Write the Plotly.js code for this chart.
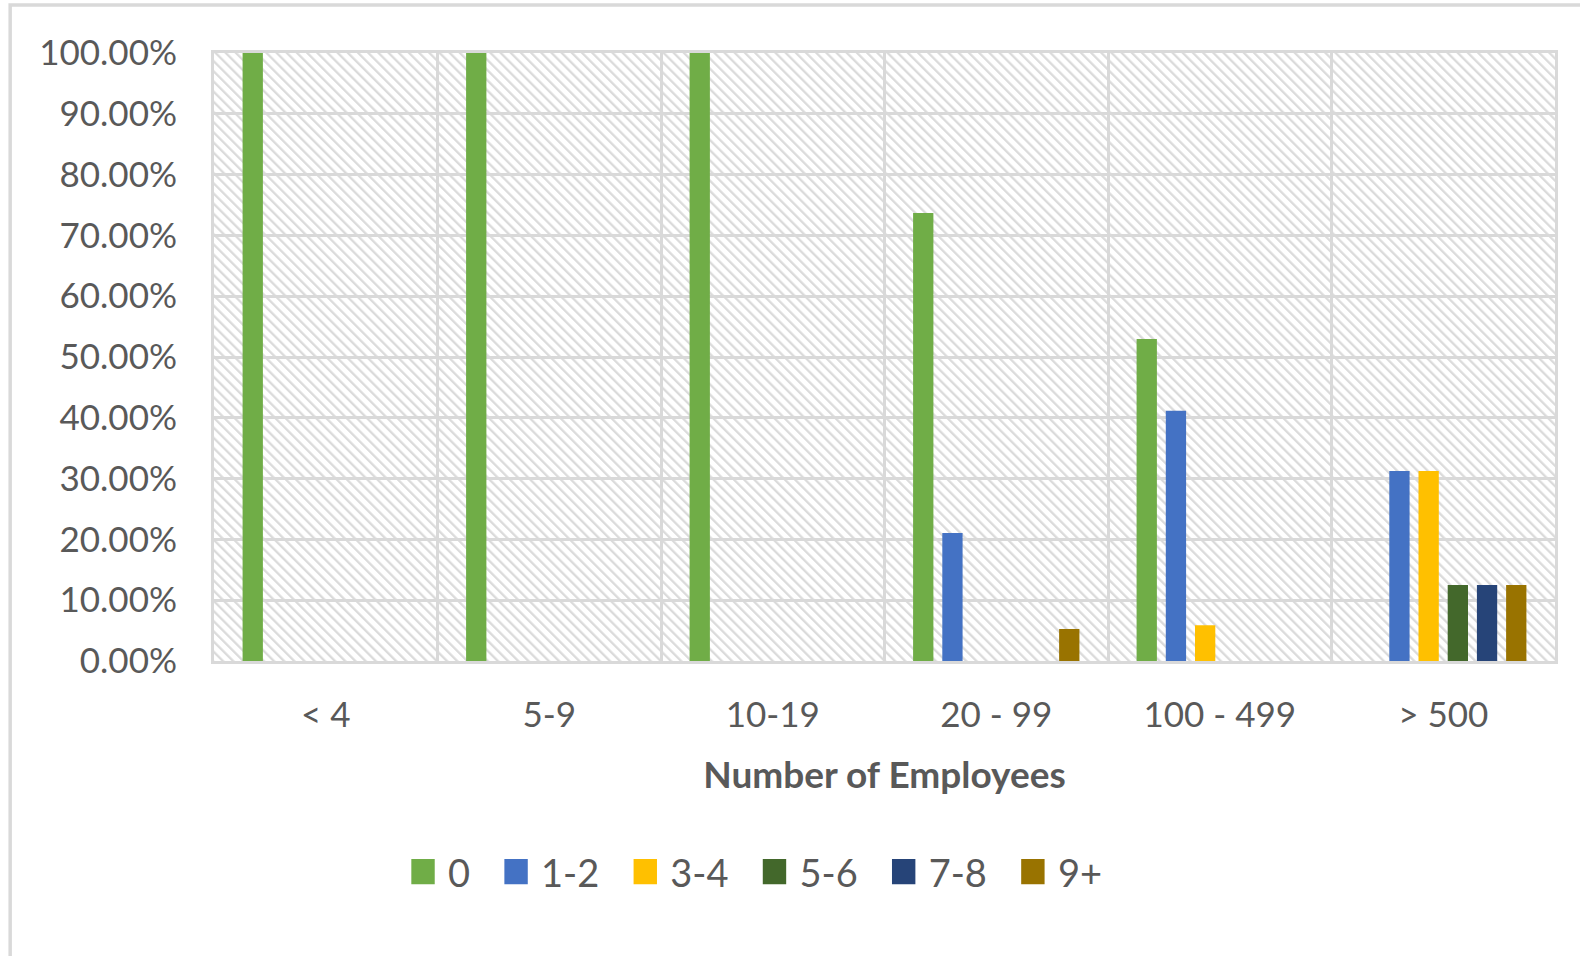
<!DOCTYPE html>
<html>
<head>
<meta charset="utf-8">
<script src="https://cdn.plot.ly/plotly-3.0.1.min.js"></script>
<style>
  html, body { margin: 0; padding: 0; background: #ffffff; }
  #chart { width: 1580px; height: 956px; }
</style>
</head>
<body>
<div id="chart"></div>
<script>
// ---- data ----
const categories = ['< 4', '5-9', '10-19', '20 - 99', '100 - 499', '> 500'];
const seriesNames = ['0', '1-2', '3-4', '5-6', '7-8', '9+'];
const values0   = [1.00, 1.00, 1.00, 0.7368, 0.5294, 0.00];
const values1_2 = [0.00, 0.00, 0.00, 0.2105, 0.4118, 0.3125];
const values3_4 = [0.00, 0.00, 0.00, 0.00,   0.0588, 0.3125];
const values5_6 = [0.00, 0.00, 0.00, 0.00,   0.00,   0.125];
const values7_8 = [0.00, 0.00, 0.00, 0.00,   0.00,   0.125];
const values9p  = [0.00, 0.00, 0.00, 0.0526, 0.00,   0.125];
const seriesValues = [values0, values1_2, values3_4, values5_6, values7_8, values9p];
const seriesColors = ['#70AD47', '#4472C4', '#FFC000', '#43682B', '#264478', '#997300'];

// ---- styling ----
const FONT = 'Lato, "Open Sans", "Liberation Sans", sans-serif';
const TEXT = '#595959';
const GRID = '#d9d9d9';

const traces = seriesNames.map((name, i) => ({
  type: 'bar',
  name: name,
  x: categories,
  y: seriesValues[i],
  marker: { color: seriesColors[i], line: { width: 0 } },
  hoverinfo: 'x+y+name'
}));

const hatchSvg =
  "<svg xmlns='http://www.w3.org/2000/svg' width='1341' height='608'>" +
  "<defs><pattern id='p' width='7.2' height='7.2' patternUnits='userSpaceOnUse' patternTransform='rotate(-45)'>" +
  "<rect width='7.2' height='7.2' fill='#ffffff'/>" +
  "<line x1='1.2' y1='0' x2='1.2' y2='7.2' stroke='#d9d9d9' stroke-width='2.2'/></pattern></defs>" +
  "<rect width='100%' height='100%' fill='url(#p)'/></svg>";

const layout = {
  width: 1580,
  height: 956,
  margin: { l: 214, r: 25, t: 53, b: 295, pad: 0 },
  paper_bgcolor: '#ffffff',
  plot_bgcolor: 'rgba(0,0,0,0)',
  font: { family: FONT, color: TEXT, size: 35 },
  barmode: 'group',
  bargap: 0.216,
  bargroupgap: 0.305,
  showlegend: true,
  legend: {
    orientation: 'h',
    x: 0.1253, xanchor: 'left',
    y: -0.347, yanchor: 'middle',
    itemwidth: 56,
    font: { family: FONT, color: TEXT, size: 38 },
    bgcolor: 'rgba(0,0,0,0)',
    traceorder: 'normal'
  },
  xaxis: {
    type: 'category',
    tickson: 'boundaries',
    showgrid: true,
    gridcolor: GRID,
    gridwidth: 3,
    showline: true,
    linecolor: GRID,
    linewidth: 3,
    mirror: true,
    ticks: '',
    ticklabelstandoff: 21,
    tickfont: { family: FONT, color: TEXT, size: 35 },
    title: {
      text: 'Number of Employees',
      font: { family: FONT, color: TEXT, size: 37, weight: 'bold' },
      standoff: 30
    },
    zeroline: false,
    fixedrange: true
  },
  yaxis: {
    range: [0, 1],
    dtick: 0.1,
    tick0: 0,
    tickformat: '.2%',
    showgrid: true,
    gridcolor: GRID,
    gridwidth: 3,
    showline: true,
    linecolor: GRID,
    linewidth: 3,
    mirror: true,
    zeroline: false,
    ticks: '',
    ticklabelstandoff: 27,
    tickfont: { family: FONT, color: TEXT, size: 35 },
    fixedrange: true
  },
  images: [{
    source: 'data:image/svg+xml;charset=utf-8,' + encodeURIComponent(hatchSvg),
    xref: 'paper', yref: 'paper',
    x: 0, y: 1, sizex: 1, sizey: 1,
    xanchor: 'left', yanchor: 'top',
    sizing: 'stretch',
    layer: 'below'
  }],
  shapes: [{
    type: 'rect',
    xref: 'paper', yref: 'paper',
    x0: -0.152, x1: 1.2, y0: -0.7, y1: 1.079,
    line: { color: GRID, width: 3.5 },
    fillcolor: 'rgba(0,0,0,0)',
    layer: 'below'
  }]
};

Plotly.newPlot('chart', traces, layout, { displayModeBar: false, staticPlot: true }).then(gd => {
  // enlarge legend swatches to match the reference's bigger squares
  document.querySelectorAll('#chart .legendpoints path').forEach(p => {
    const t = p.getAttribute('transform') || '';
    p.setAttribute('transform', t + ' translate(8,0) scale(1.95,2.1)');
  });
});
</script>
</body>
</html>
